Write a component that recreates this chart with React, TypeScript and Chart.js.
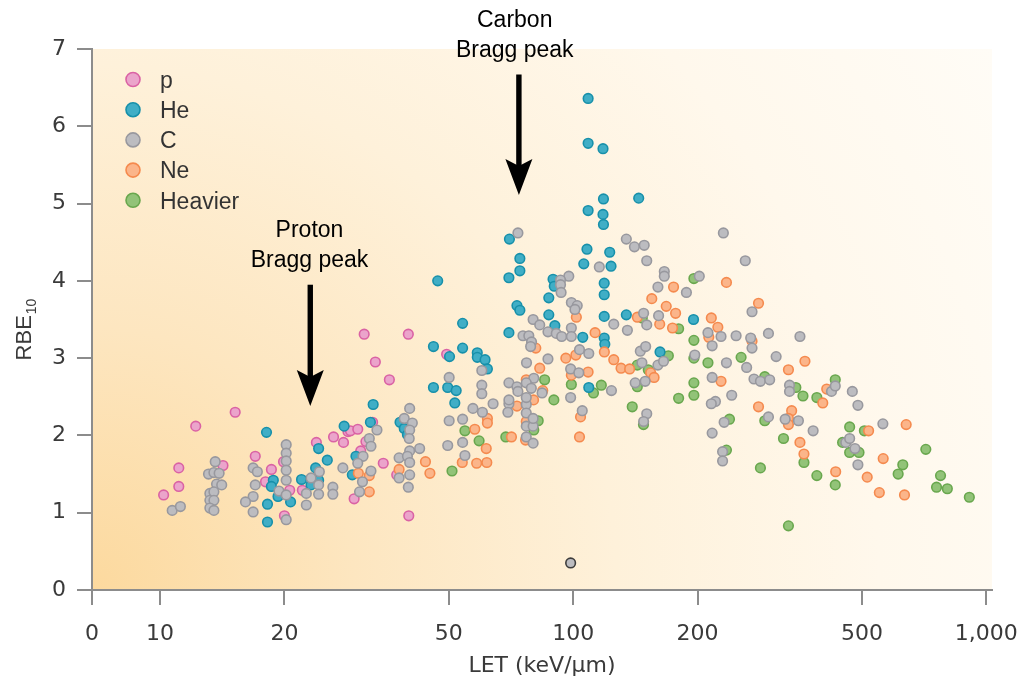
import React, { useEffect, useRef } from 'react';
import { Chart, registerables } from 'chart.js';

Chart.register(...registerables);

// ---------- axes ----------
const X_MIN = 6.843;
const X_MAX = 1032.7;
const X_TICKS = [X_MIN, 10, 20, 50, 100, 200, 500, 1000];
const Y_TICKS = [0, 1, 2, 3, 4, 5, 6, 7];
const X_TITLE = 'LET (keV/μm)';
const Y_TITLE = 'RBE';
const Y_TITLE_SUB = '10';

// ---------- series (LET keV/μm, RBE10) ----------
const SERIES_NAMES = ['p', 'He', 'C', 'Ne', 'Heavier'];

const P_POINTS: [number, number][] = [
  [10.2, 1.23], [11.1, 1.58], [11.1, 1.34], [12.2, 2.12], [15.2, 2.3], [14.2, 1.61], [17.0, 1.73],
  [18.6, 1.56], [19.9, 1.66], [18.0, 1.4], [20.0, 0.96], [20.6, 1.29], [22.1, 1.29], [23.9, 1.91],
  [26.3, 1.98], [27.8, 1.91], [28.5, 2.05], [31.2, 3.31], [39.9, 3.31], [33.2, 2.95], [35.9, 2.72],
  [49.4, 3.05], [28.9, 2.06], [30.1, 2.08], [30.6, 1.8], [32.7, 2.17], [34.7, 1.64], [37.4, 1.49],
  [29.5, 1.18], [40.0, 0.96], [31.5, 1.92],
];

const HE_POINTS: [number, number][] = [
  [18.1, 2.04], [18.8, 1.42], [18.6, 1.34], [19.3, 1.21], [18.2, 1.11], [18.2, 0.88], [20.7, 1.14],
  [22.0, 1.43], [24.2, 1.83], [25.4, 1.68], [23.8, 1.58], [24.2, 1.42], [23.2, 1.36], [27.9, 2.12],
  [54.0, 3.45], [45.9, 3.15], [54.0, 3.13], [50.2, 3.02], [45.9, 2.62], [49.7, 2.62], [52.1, 2.58],
  [51.7, 2.42], [32.8, 2.4], [32.3, 2.17], [38.1, 2.17], [39.0, 2.09], [39.7, 2.01], [29.8, 1.73],
  [29.2, 1.49], [47.0, 4.0], [70.1, 4.54], [74.3, 4.29], [74.3, 4.13], [69.9, 4.04], [108.7, 6.36],
  [108.7, 5.78], [118.1, 5.71], [118.4, 5.06], [108.7, 4.91], [118.1, 4.86], [118.4, 4.73],
  [108.0, 4.41], [122.6, 4.37], [106.1, 4.22], [123.5, 4.19], [89.4, 4.02], [90.0, 3.93],
  [118.9, 3.97], [118.9, 3.82], [87.3, 3.78], [73.1, 3.68], [74.3, 3.62], [87.3, 3.56], [118.9, 3.54],
  [134.5, 3.56], [90.3, 3.42], [69.9, 3.33], [105.5, 3.27], [118.9, 3.26], [119.3, 3.18], [109.1, 2.62],
  [144.1, 5.07], [162.3, 3.08], [195.6, 3.5], [58.6, 3.07], [58.6, 3.01], [61.2, 2.98], [62.0, 2.86],
];

const C_POINTS: [number, number][] = [
  [10.7, 1.03], [11.2, 1.08], [13.6, 1.66], [13.1, 1.5], [13.5, 1.52], [13.9, 1.51], [13.7, 1.37],
  [14.1, 1.36], [13.2, 1.25], [13.5, 1.27], [13.2, 1.16], [13.5, 1.16], [13.2, 1.06], [13.5, 1.03],
  [16.8, 1.58], [17.2, 1.53], [17.0, 1.36], [16.8, 1.21], [16.1, 1.14], [16.8, 1.01],
  [20.2, 1.88], [20.2, 1.77], [20.2, 1.67], [20.2, 1.55], [20.2, 1.42], [19.4, 1.28], [20.2, 1.23],
  [20.2, 0.91], [22.6, 1.25], [23.2, 1.45], [24.3, 1.53], [24.2, 1.36], [24.2, 1.24], [22.6, 1.1],
  [26.2, 1.33], [26.2, 1.24], [27.7, 1.58],
  [40.2, 2.35], [39.0, 2.22], [40.8, 2.16], [40.2, 2.07], [33.5, 2.07], [32.1, 1.96], [32.4, 1.86],
  [40.2, 1.8], [42.5, 1.83], [37.9, 1.71], [39.7, 1.73], [40.2, 1.65], [37.9, 1.45], [40.2, 1.49],
  [39.9, 1.33], [31.0, 1.73], [30.1, 1.64], [32.4, 1.54], [30.9, 1.4], [30.4, 1.27], [40.1, 1.96],
  [50.1, 2.19], [54.0, 2.21], [57.2, 2.35], [60.3, 2.3], [64.0, 2.41], [49.7, 1.87], [54.0, 1.91],
  [54.7, 1.74], [69.9, 2.41], [69.5, 2.3], [77.0, 2.4], [77.0, 2.29], [77.0, 2.12], [80.0, 2.12],
  [77.0, 1.98], [80.0, 1.9], [98.6, 0.35], [105.2, 2.32], [150.7, 2.28], [148.1, 2.18], [50.1, 2.75],
  [73.5, 4.62], [134.5, 4.54], [140.7, 4.44], [148.6, 4.46], [150.7, 4.26], [115.7, 4.18], [166.2, 4.12],
  [166.2, 4.06], [160.4, 3.92], [97.6, 4.06], [93.2, 4.01], [93.2, 3.95], [93.5, 3.85], [99.0, 3.72],
  [102.3, 3.68], [101.0, 3.63], [80.0, 3.5], [83.0, 3.43], [86.9, 3.34], [91.0, 3.32], [93.8, 3.28],
  [99.0, 3.39], [99.0, 3.28], [75.6, 3.29], [78.1, 3.29], [79.3, 3.21], [78.9, 3.15], [77.1, 2.94],
  [86.9, 2.99], [103.6, 3.11], [109.1, 3.06], [98.6, 2.86], [103.2, 2.81], [125.4, 3.44], [135.3, 3.36],
  [148.1, 3.58], [150.7, 3.43], [161.0, 3.55], [145.4, 3.09], [149.8, 3.15], [146.7, 2.94], [160.4, 2.91],
  [165.5, 2.96], [149.4, 2.7], [141.3, 2.68], [123.8, 2.58], [98.6, 2.49], [80.3, 2.74], [69.9, 2.68],
  [73.1, 2.63], [77.0, 2.68], [79.2, 2.61], [77.0, 2.49], [84.1, 2.55], [69.9, 2.46], [80.0, 2.22],
  [60.1, 2.84], [60.1, 2.65], [60.1, 2.54], [73.5, 2.57],
  [231, 4.62], [261, 4.26], [202, 4.06], [188, 3.85], [271, 3.6], [212, 3.33], [217, 3.16], [228, 3.28],
  [248, 3.29], [269, 3.26], [271, 3.13], [297, 3.32], [354, 3.28], [197, 3.04], [235, 2.94], [263, 2.88],
  [310, 3.02], [217, 2.75], [242, 2.52], [274, 2.73], [284, 2.7], [299, 2.72], [221, 2.44], [216, 2.41],
  [232, 2.17], [217, 2.03], [230, 1.79], [230, 1.67], [334, 2.65], [334, 2.57], [422, 2.57], [431, 2.64],
  [474, 2.57], [489, 2.39], [297, 2.24], [326, 2.21], [351, 2.19], [381, 2.06], [562, 2.15], [457, 1.91],
  [467, 1.96], [481, 1.83], [489, 1.62],
];

const NE_POINTS: [number, number][] = [
  [43.9, 1.66], [45.0, 1.51], [37.9, 1.56], [30.2, 1.51], [32.1, 1.48], [32.1, 1.27], [53.9, 1.65],
  [62.0, 2.22], [62.0, 2.16], [57.8, 2.08], [61.6, 1.83], [58.4, 1.64], [61.8, 1.65], [70.9, 1.98],
  [77.0, 2.18], [76.7, 1.94], [104.2, 2.24], [103.6, 1.98],
  [155, 3.77], [168, 3.67], [175, 3.92], [177, 3.58], [174, 3.39], [162, 3.44], [143, 3.53], [101.8, 3.53],
  [113, 3.33], [119, 3.08], [125.4, 2.98], [130.6, 2.87], [137, 2.86], [154, 2.81], [157, 2.75],
  [96.0, 3.0], [101.5, 3.04], [99.0, 2.78], [108.7, 2.82], [83.0, 2.87], [81.2, 3.13], [77.0, 2.72],
  [80.2, 2.46], [73.1, 2.38], [84.4, 2.58],
  [235, 3.98], [281, 3.71], [216, 3.52], [224, 3.4], [213, 3.27], [271, 3.22], [332, 2.85], [364, 2.96],
  [228, 2.7], [281, 2.37], [338, 2.32], [332, 2.22], [332, 2.14], [411, 2.6], [402, 2.42], [354, 1.91],
  [519, 2.06], [640, 2.14], [362, 1.76], [432, 1.53], [515, 1.46], [563, 1.7], [551, 1.26], [634, 1.23],
];

const HEAVY_POINTS: [number, number][] = [
  [54.7, 2.06], [59.2, 1.93], [50.9, 1.54], [68.7, 1.98], [82.3, 2.19], [80.3, 2.07], [85.3, 2.72],
  [89.8, 2.46], [99.0, 2.66], [117, 2.65], [112, 2.55], [139, 2.37], [148, 2.14], [170, 3.03],
  [152, 2.85], [143, 2.91], [143, 2.63], [147, 3.52], [180, 3.38], [180, 2.48], [196, 4.03],
  [196, 3.23], [196, 3.0], [212, 2.94], [255, 3.01], [196, 2.68], [196, 2.52], [291, 2.76],
  [346, 2.62], [360, 2.51], [389, 2.49], [431, 2.72], [239, 2.21], [291, 2.19], [323, 1.96],
  [467, 2.11], [507, 2.06], [449, 1.91], [467, 1.78], [492, 1.78], [714, 1.82], [235, 1.81],
  [362, 1.65], [284, 1.58], [389, 1.48], [431, 1.36], [628, 1.62], [612, 1.5], [775, 1.48],
  [758, 1.33], [805, 1.31], [910, 1.2], [332, 0.83],
];

// ---------- annotations (data coordinates) ----------
const CARBON_ARROW = { x: 73.9, from: 6.67, to: 5.11 };
const PROTON_ARROW = { x: 23.1, from: 3.95, to: 2.38 };
const CARBON_LINES = ['Carbon', 'Bragg peak'];
const CARBON_LINE_Y = [7.28, 6.9];
const CARBON_LABEL_X = 72.2;
const PROTON_LINES = ['Proton', 'Bragg peak'];
const PROTON_LINE_Y = [4.57, 4.18];
const PROTON_LABEL_X = 23.0;

// ---------- styles ----------
const FILLS = ['#eba4cb', '#40aec6', '#bcbcc0', '#fbb58a', '#92c378'];
const BORDERS = ['#da62a4', '#1790aa', '#98989e', '#f58a4e', '#69a74e'];
const ORDERS = [3, 2, 0, 1, 4];
const AXIS_COLOR = '#8c8c8c';
const TEXT_COLOR = '#3a3a3a';
const TICK_FONT = { family: 'DejaVu Sans', size: 22 };
const SANS = '"Liberation Sans", Arial, sans-serif';

const ALL_POINTS = [P_POINTS, HE_POINTS, C_POINTS, NE_POINTS, HEAVY_POINTS];

const decorPlugin = {
  id: 'decor',
  beforeDraw(chart: any) {
    const { ctx, chartArea: a } = chart;
    const r = Math.hypot(a.right - a.left, a.bottom - a.top);
    const g = ctx.createRadialGradient(a.left, a.bottom, 0, a.left, a.bottom, r);
    g.addColorStop(0, '#fcd99e');
    g.addColorStop(0.25, '#fde6c0');
    g.addColorStop(0.5, '#fef1da');
    g.addColorStop(0.75, '#fff8ec');
    g.addColorStop(1, '#fffcf6');
    ctx.save();
    ctx.fillStyle = g;
    ctx.fillRect(a.left, a.top, a.right - a.left, a.bottom - a.top);
    ctx.restore();
  },
  afterDraw(chart: any) {
    const { ctx, chartArea: a, scales } = chart;
    const xs = scales.x;
    const ys = scales.y;
    ctx.save();

    // arrows
    const drawArrow = (arr: { x: number; from: number; to: number }) => {
      const x = xs.getPixelForValue(arr.x);
      const y0 = ys.getPixelForValue(arr.from);
      const y1 = ys.getPixelForValue(arr.to);
      const headH = 36;
      const headW = 27;
      ctx.fillStyle = '#000';
      ctx.fillRect(x - 2.7, y0, 5.4, y1 - y0 - headH + 8);
      ctx.beginPath();
      ctx.moveTo(x, y1);
      ctx.lineTo(x - headW / 2, y1 - headH);
      ctx.lineTo(x, y1 - headH + 7);
      ctx.lineTo(x + headW / 2, y1 - headH);
      ctx.closePath();
      ctx.fill();
    };
    drawArrow(CARBON_ARROW);
    drawArrow(PROTON_ARROW);

    // annotation texts
    ctx.font = `23px ${SANS}`;
    ctx.fillStyle = '#000';
    ctx.textAlign = 'center';
    ctx.textBaseline = 'alphabetic';
    CARBON_LINES.forEach((t, i) => {
      ctx.fillText(t, xs.getPixelForValue(CARBON_LABEL_X), ys.getPixelForValue(CARBON_LINE_Y[i]));
    });
    PROTON_LINES.forEach((t, i) => {
      ctx.fillText(t, xs.getPixelForValue(PROTON_LABEL_X), ys.getPixelForValue(PROTON_LINE_Y[i]));
    });

    // legend
    chart.data.datasets.forEach((ds: any, i: number) => {
      const cx = a.left + 41;
      const cy = a.top + 30.5 + i * 30.2;
      ctx.beginPath();
      ctx.arc(cx, cy, 7, 0, Math.PI * 2);
      ctx.fillStyle = FILLS[i];
      ctx.fill();
      ctx.lineWidth = 1.6;
      ctx.strokeStyle = BORDERS[i];
      ctx.stroke();
      ctx.font = `23px ${SANS}`;
      ctx.fillStyle = '#333';
      ctx.textAlign = 'left';
      ctx.fillText(ds.label, a.left + 68, cy + 8.3);
    });

    // y title with subscript
    ctx.translate(23, 330);
    ctx.rotate(-Math.PI / 2);
    ctx.fillStyle = TEXT_COLOR;
    ctx.font = `22px ${SANS}`;
    const wMain = ctx.measureText(Y_TITLE).width;
    ctx.font = `14px ${SANS}`;
    const wSub = ctx.measureText(Y_TITLE_SUB).width;
    const start = -(wMain + wSub) / 2;
    ctx.textAlign = 'left';
    ctx.font = `22px ${SANS}`;
    ctx.fillText(Y_TITLE, start, 8);
    ctx.font = `14px ${SANS}`;
    ctx.fillText(Y_TITLE_SUB, start + wMain + 1, 13);
    ctx.restore();
  },
};

export default function App() {
  const ref = useRef<HTMLCanvasElement | null>(null);
  useEffect(() => {
    if (!ref.current) return;
    const datasets = SERIES_NAMES.map((name, i) => ({
      label: name,
      data: ALL_POINTS[i].map(([x, y]) => ({ x, y })),
      backgroundColor: FILLS[i],
      borderColor: BORDERS[i],
      pointBackgroundColor: FILLS[i],
      pointBorderColor: (c: any) => (c.raw && c.raw.y < 0.5 ? '#3c3c3c' : BORDERS[i]),
      pointRadius: 4.8,
      pointBorderWidth: 1.6,
      order: ORDERS[i],
    }));
    const chart = new Chart(ref.current, {
      type: 'scatter',
      data: { datasets },
      plugins: [decorPlugin],
      options: {
        animation: false,
        responsive: false,
        events: [],
        layout: { padding: { left: 0, right: 40, top: 49, bottom: 0 } },
        plugins: { legend: { display: false }, tooltip: { enabled: false } },
        scales: {
          x: {
            type: 'logarithmic',
            min: X_MIN,
            max: X_MAX,
            afterBuildTicks: (s: any) => {
              s.ticks = X_TICKS.map((v) => ({ value: v }));
            },
            afterFit: (s: any) => {
              s.height = 89;
            },
            ticks: {
              autoSkip: false,
              maxRotation: 0,
              minRotation: 0,
              padding: 16,
              color: TEXT_COLOR,
              font: TICK_FONT,
              callback: (v: any) => (v === X_MIN ? '0' : Number(v).toLocaleString('en-US')),
            },
            grid: { drawOnChartArea: false, drawTicks: true, tickLength: 15, color: AXIS_COLOR, lineWidth: 2 },
            border: { display: true, color: AXIS_COLOR, width: 2 },
            title: {
              display: true,
              text: X_TITLE,
              color: TEXT_COLOR,
              font: { family: 'DejaVu Sans', size: 22 },
              padding: { top: 0, bottom: 0 },
            },
          },
          y: {
            type: 'linear',
            min: 0,
            max: 7,
            afterBuildTicks: (s: any) => {
              s.ticks = Y_TICKS.map((v) => ({ value: v }));
            },
            afterFit: (s: any) => {
              s.width = 92;
            },
            ticks: { padding: 11, color: TEXT_COLOR, font: TICK_FONT },
            grid: { drawOnChartArea: false, drawTicks: true, tickLength: 15, color: AXIS_COLOR, lineWidth: 2 },
            border: { display: true, color: AXIS_COLOR, width: 2 },
          },
        },
      } as any,
    });
    return () => chart.destroy();
  }, []);
  return (
    <div style={{ position: 'fixed', left: 0, top: 0, width: 1034, height: 679, background: '#fff' }}>
      <canvas ref={ref} width={1034} height={679} style={{ display: 'block' }} />
    </div>
  );
}
